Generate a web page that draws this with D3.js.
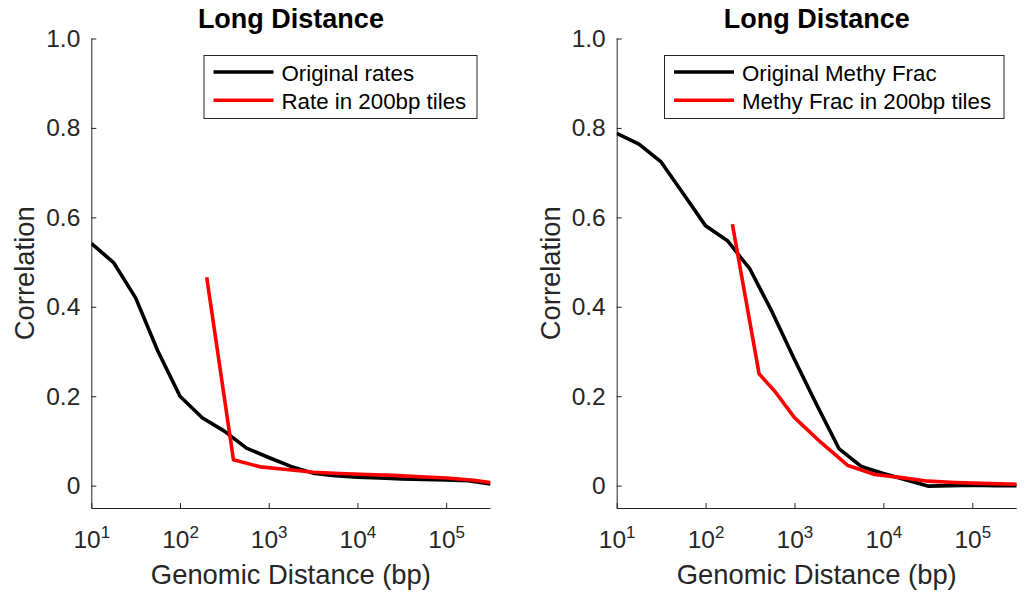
<!DOCTYPE html>
<html><head><meta charset="utf-8">
<script src="https://cdn.jsdelivr.net/npm/d3@7"></script>
<style>body{margin:0;background:#fff}svg{display:block}text{font-family:"Liberation Sans",Arial,Helvetica,sans-serif}</style>
</head><body><svg id="c" width="1026" height="594"></svg>
<script>
// ---- data ----
const titles = ["Long Distance", "Long Distance"];
const xLabel = "Genomic Distance (bp)";
const yLabel = "Correlation";
const yTicks = [0, 0.2, 0.4, 0.6, 0.8, 1.0];
const yTickLabels = ["0", "0.2", "0.4", "0.6", "0.8", "1.0"];
const xTickExps = [1, 2, 3, 4, 5];
const xDomain = [10, 316228];
const yDomain = [-0.05, 1.0];

// original series x positions (bp, quarter decades)
const origX = [10, 17.8, 31.6, 56.2, 100, 178, 316, 562, 1000, 1778, 3162, 5623, 10000, 17783, 31623, 56234, 100000, 177828, 316228];
const leftOrigY = [0.542, 0.499, 0.420, 0.301, 0.200, 0.152, 0.122, 0.084, 0.063, 0.043, 0.028, 0.022, 0.019, 0.017, 0.015, 0.014, 0.013, 0.011, 0.004];
const rightOrigY = [0.788, 0.764, 0.724, 0.653, 0.581, 0.547, 0.484, 0.388, 0.282, 0.181, 0.083, 0.043, 0.027, 0.013, -0.001, 0.000, 0.001, 0.000, 0.000];

// tiled series
const leftTileX = [200, 400, 800, 1600, 3200, 6400, 12800, 25600, 51200, 102400, 204800, 316228];
const leftTileY = [0.466, 0.058, 0.042, 0.036, 0.030, 0.027, 0.025, 0.023, 0.020, 0.017, 0.012, 0.007];
const rightTileX = [200, 400, 600, 1000, 2000, 4000, 8000, 16000, 32000, 64000, 128000, 316228];
const rightTileY = [0.585, 0.250, 0.211, 0.152, 0.096, 0.045, 0.025, 0.018, 0.010, 0.007, 0.005, 0.003];

const legendLabels = [["Original rates", "Rate in 200bp tiles"], ["Original Methy Frac", "Methy Frac in 200bp tiles"]];
const seriesColors = ["#000000", "#ff0000"];

// ---- drawing ----
const svg = d3.select("#c");
const axisCol = "#262626";
const panels = [
  {x0: 91.3, x1: 490.5, orig: leftOrigY, tx: leftTileX, ty: leftTileY, leg: legendLabels[0], legX: 203.5, legW: 273, title: titles[0]},
  {x0: 616.7, x1: 1016.7, orig: rightOrigY, tx: rightTileX, ty: rightTileY, leg: legendLabels[1], legX: 664, legW: 339.5, title: titles[1]}
];
const yTop = 38.5, yBot = 508;

panels.forEach((p, i) => {
  const x = d3.scaleLog().domain(xDomain).range([p.x0, p.x1]);
  const y = d3.scaleLinear().domain(yDomain).range([yBot, yTop]);
  const g = svg.append("g");

  const cid = "clip" + i;
  svg.append("defs").append("clipPath").attr("id", cid).append("rect")
    .attr("x", p.x0).attr("y", yTop - 2).attr("width", p.x1 - p.x0).attr("height", yBot - yTop + 2);

  // y axis
  const ya = d3.axisLeft(y).tickValues(yTicks).tickFormat((d, k) => yTickLabels[k]).tickSizeInner(-5).tickSizeOuter(0).tickPadding(11);
  const yg = g.append("g").attr("transform", `translate(${p.x0},0)`).call(ya);
  yg.select(".domain").attr("stroke", axisCol).attr("d", `M0.5,${yBot}V${yTop}`);
  yg.selectAll(".tick line").attr("stroke", axisCol);
  yg.selectAll(".tick text").attr("fill", axisCol).attr("font-size", 24.5).attr("x", -11);

  // x axis
  const xt = xTickExps.map(e => Math.pow(10, e));
  const xa = d3.axisBottom(x).tickValues(xt).tickFormat("").tickSizeInner(-5).tickSizeOuter(0);
  const xg = g.append("g").attr("transform", `translate(0,${yBot})`).call(xa);
  xg.select(".domain").attr("stroke", axisCol).attr("d", `M${p.x0},0.5H${p.x1}`);
  xg.selectAll(".tick line").attr("stroke", axisCol);
  xg.selectAll(".tick").each(function(d, k) {
    const t = d3.select(this).append("text").attr("fill", axisCol).attr("text-anchor", "middle")
      .attr("y", 40).attr("font-size", 24.5);
    t.append("tspan").text("10");
    t.append("tspan").attr("font-size", 17).attr("dy", -10).text(String(xTickExps[k]));
  });

  // labels
  g.append("text").attr("x", (p.x0 + p.x1) / 2).attr("y", 584).attr("text-anchor", "middle")
    .attr("font-size", 27.4).attr("fill", axisCol).text(xLabel);
  g.append("text").attr("transform", `translate(${p.x0 - 57},${(yTop + yBot) / 2}) rotate(-90)`)
    .attr("text-anchor", "middle").attr("font-size", 27.4).attr("fill", axisCol).text(yLabel);
  g.append("text").attr("x", (p.x0 + p.x1) / 2).attr("y", 28).attr("text-anchor", "middle")
    .attr("font-size", 27).attr("font-weight", "bold").attr("fill", "#000").text(p.title);

  // lines
  const line = d3.line().x(d => x(d[0])).y(d => y(d[1]));
  const lg = g.append("g").attr("clip-path", `url(#${cid})`);
  lg.append("path").datum(origX.map((v, k) => [v, p.orig[k]]))
    .attr("d", line).attr("fill", "none").attr("stroke", seriesColors[0]).attr("stroke-width", 3.6).attr("stroke-linejoin", "round");
  lg.append("path").datum(p.tx.map((v, k) => [v, p.ty[k]]))
    .attr("d", line).attr("fill", "none").attr("stroke", seriesColors[1]).attr("stroke-width", 3.6).attr("stroke-linejoin", "round");

  // legend
  const leg = g.append("g");
  leg.append("rect").attr("x", p.legX + 0.5).attr("y", 55.5).attr("width", p.legW).attr("height", 63)
    .attr("fill", "#fff").attr("stroke", axisCol).attr("stroke-width", 1);
  p.leg.forEach((lab, k) => {
    const ly = 72 + k * 28.3;
    leg.append("line").attr("x1", p.legX + 10).attr("x2", p.legX + 70).attr("y1", ly).attr("y2", ly)
      .attr("stroke", seriesColors[k]).attr("stroke-width", 3.6);
    leg.append("text").attr("x", p.legX + 78).attr("y", ly + 9).attr("font-size", 22.3).attr("fill", "#000").text(lab);
  });
});
</script></body></html>
